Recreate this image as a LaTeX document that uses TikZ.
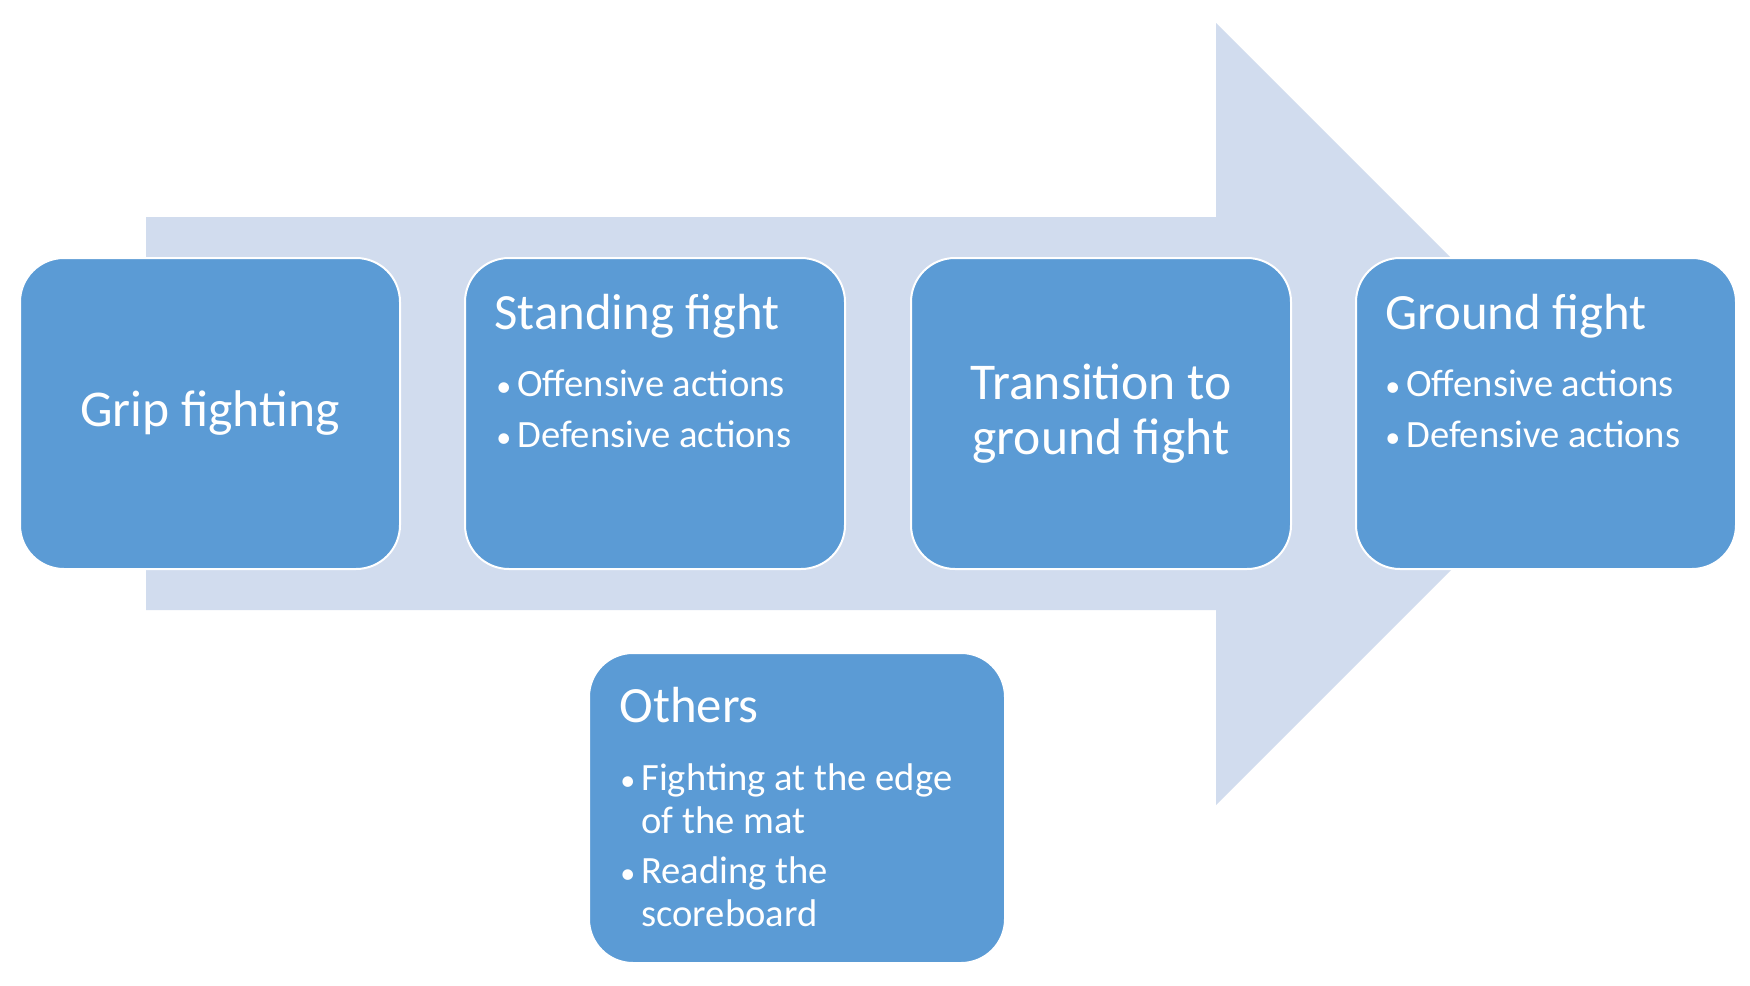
\documentclass[tikz,border=0pt]{standalone}
\usepackage{fontspec}
\setmainfont{Carlito}
\usepackage{tikz}
\usetikzlibrary{positioning}
\definecolor{boxblue}{HTML}{5B9BD5}
\definecolor{bandblue}{HTML}{D1DCEE}
\tikzstyle{stagebox}=[draw=white, line width=1pt, fill=boxblue, rounded corners=22pt, minimum width=190pt, minimum height=155.5pt, inner sep=0pt, text=white, align=center]
\tikzstyle{bigtext}=[font=\fontsize{25.8}{27.5}\selectfont]
\tikzstyle{titletext}=[text=white, font=\fontsize{25.4}{27}\selectfont, inner sep=0pt, anchor=base west]
\tikzstyle{listtext}=[text=white, font=\fontsize{19.3}{21.5}\selectfont, inner sep=0pt, anchor=base west]
\newcommand{\bul}{\makebox[8.5pt][l]{\hspace*{-2pt}\fontsize{15}{15}\selectfont\textbullet}}

\begin{document}
\begin{tikzpicture}[x=0.5pt, y=-0.5pt]
    \fill[white] (0,0) rectangle (1750,985);
    \useasboundingbox (0,0) rectangle (1750,985);

    % arrow
    \fill[bandblue] (146,217) -- (1216,217) -- (1216,23) -- (1607,414) -- (1216,805) -- (1216,610) -- (146,610) -- cycle;

    % stages
    \node[stagebox, bigtext] (grip) at (210,413.5) {Grip fighting};
    \node[stagebox] (standing) at (655,413.5) {};
    \node[stagebox, bigtext] (transition) at (1101,413.5) {Transition to\\ground fight};
    \node[stagebox] (ground) at (1546,413.5) {};
    \node[stagebox, minimum width=208pt, minimum height=155pt] (others) at (797,808) {};

    % texts
    \node[titletext] (standinghead) at (494,329) {Standing fight};
    \node[listtext] (standinglist) at (500,396) {\begin{tabular}[t]{@{}l@{}}
        \bul Offensive actions\\[4pt]
        \bul Defensive actions
    \end{tabular}};
    \node[titletext] (groundhead) at (1385,329) {Ground fight};
    \node[listtext] (groundlist) at (1389,396) {\begin{tabular}[t]{@{}l@{}}
        \bul Offensive actions\\[4pt]
        \bul Defensive actions
    \end{tabular}};
    \node[titletext] (othershead) at (619,722) {Others};
    \node[listtext] (otherslist) at (624,790) {\begin{tabular}[t]{@{}l@{}}
        \bul Fighting at the edge\\
        \hspace*{8.5pt}of the mat\\[3.5pt]
        \bul Reading the\\
        \hspace*{8.5pt}scoreboard
    \end{tabular}};

\end{tikzpicture}
\end{document}
